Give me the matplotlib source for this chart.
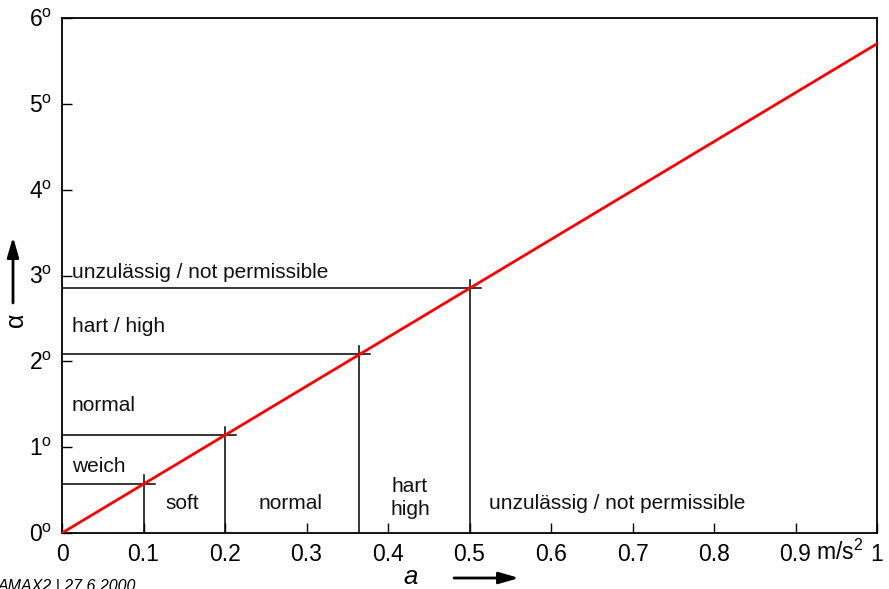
import numpy as np
import matplotlib
matplotlib.use("Agg")
import matplotlib.pyplot as plt
from matplotlib.transforms import blended_transform_factory

plt.rcParams['font.family'] = ['Liberation Sans', 'DejaVu Sans']
plt.rcParams['mathtext.fontset'] = 'custom'
plt.rcParams['mathtext.rm'] = 'Liberation Sans'
plt.rcParams['mathtext.it'] = 'Liberation Sans:italic'

# tilt angle against lateral acceleration
a_line = [0.0, 1.0]
alpha_line = [0.0, 5.7]

# class limits on the acceleration axis
limit_a = [0.1, 0.2, 0.365, 0.5]

x_ticks = [0.0, 0.1, 0.2, 0.3, 0.4, 0.5, 0.6, 0.7, 0.8, 0.9, 1.0]
x_tick_labels = ["0", "0.1", "0.2", "0.3", "0.4", "0.5", "0.6", "0.7", "0.8", "0.9", "1"]
y_ticks = [0, 1, 2, 3, 4, 5, 6]
y_tick_labels = [r"%d$^{\mathrm{o}}$" % v for v in y_ticks]

# class names along alpha (left) and along a (bottom)
alpha_names = ["weich", "normal", "hart / high", "unzulässig / not permissible"]
alpha_name_pos = [0.77, 1.49, 2.40, 3.04]
a_names = ["soft", "normal", "hart\nhigh", "unzulässig / not permissible"]
a_name_pos = [0.148, 0.280, 0.427, 0.681]

fig = plt.figure(figsize=(8.89, 5.89), dpi=100)
ax = fig.add_axes([62 / 889, 56 / 589, 815 / 889, 515 / 589])

ax.plot(a_line, alpha_line, color='#ff0000', lw=2.0, zorder=3)

limit_alpha = np.interp(limit_a, a_line, alpha_line)
for la, lal in zip(limit_a, limit_alpha):
    ax.plot([0, la + 0.0135], [lal, lal], color='black', lw=1.1, zorder=2)
    ax.plot([la, la], [0, lal + 0.1], color='black', lw=1.1, zorder=2)

for name, y in zip(alpha_names, alpha_name_pos):
    ax.text(0.012, y, name, fontsize=15, va='center', ha='left', color='#111111')
for name, x in zip(a_names, a_name_pos):
    ax.text(x, 0.34 if "\n" not in name else 0.41, name, fontsize=15, va='center',
            ha='center', linespacing=1.25, color='#111111')

ax.set_xlim(0, 1)
ax.set_ylim(0, 6)
ax.set_xticks(x_ticks)
ax.set_xticklabels(x_tick_labels)
ax.set_yticks(y_ticks)
ax.set_yticklabels(y_tick_labels)
ax.tick_params(direction='in', length=7, width=1.0, labelsize=16.5, pad=7)
ax.tick_params(axis='y', pad=7)
for s in ax.spines.values():
    s.set_linewidth(1.3)

# unit next to the last tick label
trans = blended_transform_factory(ax.transData, ax.transAxes)
ax.text(0.925, -0.0525, r"m/s$^2$", transform=trans, fontsize=16.5, ha='left', va='baseline')

# axis names with arrows
fig.text(411 / 889, 1 - 577 / 589, "a", fontsize=18.5, style='italic', ha='center', va='center')
fig.text(16 / 889, 1 - 320 / 589, "α", fontsize=18, rotation=90, ha='center', va='center')
ax.annotate('', xy=(519 / 889, 1 - 578 / 589), xytext=(454 / 889, 1 - 578 / 589),
            xycoords='figure fraction', textcoords='figure fraction',
            arrowprops=dict(arrowstyle='-|>,head_length=1.2,head_width=0.35', lw=2, color='black',
                            shrinkA=0, shrinkB=0), annotation_clip=False)
ax.annotate('', xy=(13 / 889, 1 - 237 / 589), xytext=(13 / 889, 1 - 303 / 589),
            xycoords='figure fraction', textcoords='figure fraction',
            arrowprops=dict(arrowstyle='-|>,head_length=1.2,head_width=0.35', lw=2, color='black',
                            shrinkA=0, shrinkB=0), annotation_clip=False)

fig.text(-0.003, -0.004, "AMAX2 | 27.6.2000", fontsize=11.5, style='italic', ha='left', va='baseline')

fig.savefig("out.png", dpi=100)
